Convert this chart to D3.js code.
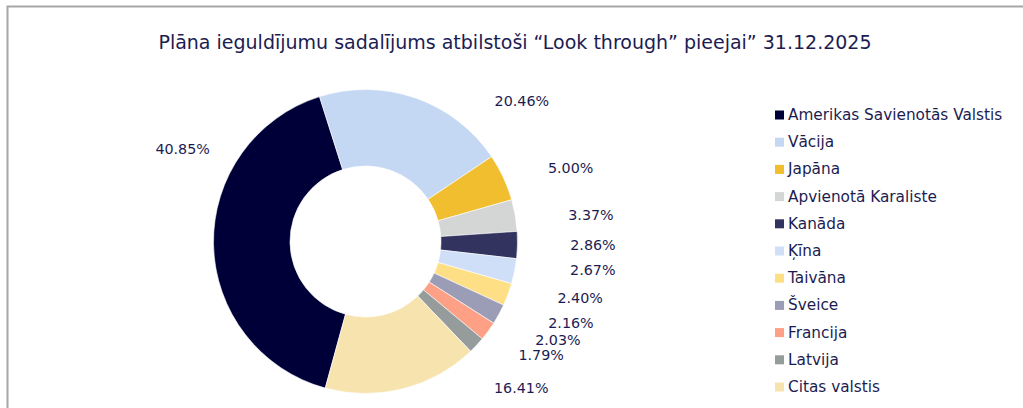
<!DOCTYPE html>
<html>
<head>
<meta charset="utf-8">
<script src="https://cdn.jsdelivr.net/npm/d3@7"></script>
<style>
  html, body { margin: 0; padding: 0; background: #fff; }
  svg { display: block; }
</style>
</head>
<body>
<svg id="chart" width="1023" height="408"></svg>
<script>
// ---- data ----
const title = "Plāna ieguldījumu sadalījums atbilstoši “Look through” pieejai” 31.12.2025";
const categories = ["Amerikas Savienotās Valstis", "Vācija", "Japāna", "Apvienotā Karaliste", "Kanāda", "Ķīna", "Taivāna", "Šveice", "Francija", "Latvija", "Citas valstis"];
const values = [40.85, 20.46, 5.00, 3.37, 2.86, 2.67, 2.40, 2.16, 2.03, 1.79, 16.41];
const colors = ["#000038", "#C5D8F3", "#F0BE2E", "#D4D6D5", "#333360", "#CEDFF7", "#FEDF86", "#9B9CB5", "#FDA086", "#959C9B", "#F7E3AE"];

// ---- layout (label placement tweaks, degrees / px) ----
const labelShiftDeg = [28, 28.9, 5.2, 3.2, -0.4, -4.2, -5.6, -7, -9.1, -10.2, -32.5];
const labelRadius = [205, 210, 218, 227, 227.5, 229, 222, 221, 216, 209, 214];

const svg = d3.select("#chart");
const textColor = "#1C1C52";

// frame
svg.append("path")
  .attr("d", "M7.5,420 L7.5,6.5 L1040,6.5")
  .attr("fill", "none")
  .attr("stroke", "#A6A6A6")
  .attr("stroke-width", 2);

// title
svg.append("text")
  .attr("x", 515).attr("y", 42)
  .attr("text-anchor", "middle")
  .attr("dominant-baseline", "central")
  .attr("font-family", "DejaVu Sans, sans-serif")
  .attr("font-size", 19)
  .attr("fill", textColor)
  .text(title);

const cx = 365.5, cy = 241.5, rOuter = 152, rInner = 75.5;
const toRad = d => d * Math.PI / 180;
const start = toRad(-17.6) - values[0] / 100 * 2 * Math.PI;

const pie = d3.pie().sort(null).value(d => d)
  .startAngle(start).endAngle(start + 2 * Math.PI);
const arcs = pie(values);
const arc = d3.arc().innerRadius(rInner).outerRadius(rOuter);

const g = svg.append("g").attr("transform", `translate(${cx},${cy})`);
g.selectAll("path.slice").data(arcs).join("path")
  .attr("class", "slice")
  .attr("d", arc)
  .attr("fill", (d, i) => colors[i])
  .attr("stroke", "#fff")
  .attr("stroke-width", 0.6);

g.selectAll("text.lbl").data(arcs).join("text")
  .attr("class", "lbl")
  .attr("transform", (d, i) => {
    const a = (d.startAngle + d.endAngle) / 2 + toRad(labelShiftDeg[i]);
    const r = labelRadius[i];
    return `translate(${r * Math.sin(a)},${-r * Math.cos(a)})`;
  })
  .attr("text-anchor", "middle")
  .attr("dominant-baseline", "central")
  .attr("font-family", "DejaVu Sans, Verdana, sans-serif")
  .attr("font-size", 14.3)
  .attr("fill", textColor)
  .text(d => d.data.toFixed(2) + "%");

// legend
const legY = d3.scalePoint().domain(categories).range([115, 387]);
const leg = svg.append("g");
const items = leg.selectAll("g").data(categories).join("g")
  .attr("transform", d => `translate(775,${legY(d)})`);
items.append("rect")
  .attr("x", 0).attr("y", -4.5).attr("width", 9).attr("height", 9)
  .attr("fill", (d, i) => colors[i]);
items.append("text")
  .attr("x", 13).attr("y", 0)
  .attr("dominant-baseline", "central")
  .attr("font-family", "DejaVu Sans, Verdana, sans-serif")
  .attr("font-size", 15.3)
  .attr("fill", textColor)
  .text(d => d);
</script>
</body>
</html>
